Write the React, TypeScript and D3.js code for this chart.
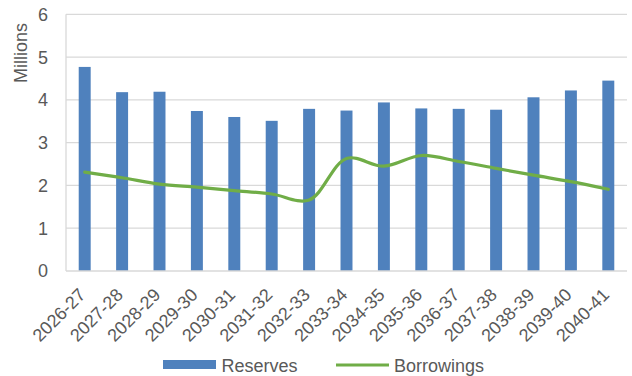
import React from "react";
import * as d3 from "d3";

const categories = ["2026-27","2027-28","2028-29","2029-30","2030-31","2031-32","2032-33","2033-34","2034-35","2035-36","2036-37","2037-38","2038-39","2039-40","2040-41"];
const reserves = [4.77,4.18,4.19,3.74,3.60,3.51,3.79,3.75,3.94,3.80,3.79,3.77,4.06,4.22,4.45];
const borrowings = [2.31,2.18,2.03,1.96,1.88,1.80,1.66,2.63,2.45,2.70,2.56,2.40,2.24,2.09,1.91];
const yTicks = [0,1,2,3,4,5,6];

const W = 632, H = 376;
const left = 66, right = 627, top = 14.3, bottom = 271;
const font = "'Liberation Sans', Arial, sans-serif";
const gray = "#595959";
const fs = 18;

export default function App() {
  const x = d3.scaleBand<string>().domain(categories).range([left, right]).paddingInner(0.68).paddingOuter(0.34);
  const y = d3.scaleLinear().domain([0, 6]).range([bottom, top]);
  const cx = (c: string) => (x(c) as number) + x.bandwidth() / 2;
  const line = d3.line<number>().x((_, i) => cx(categories[i])).y(d => y(d)).curve(d3.curveCatmullRom.alpha(0.5));
  return (
    <svg width={W} height={H} style={{ position: "absolute", left: 0, top: 0, background: "#fff" }} fontFamily={font}>
      {yTicks.map(t => (
        <g key={t}>
          {t > 0 && <line x1={left} x2={right} y1={y(t)} y2={y(t)} stroke="#d9d9d9" strokeWidth={1.3} />}
          <text x={48} y={y(t)} dy="0.36em" textAnchor="end" fontSize={fs} fill={gray}>{t}</text>
        </g>
      ))}
      <line x1={left} x2={left} y1={top} y2={bottom} stroke="#d9d9d9" strokeWidth={1.3} />
      {categories.map((c, i) => (
        <rect key={c} x={x(c)} y={y(reserves[i])} width={x.bandwidth()} height={bottom - y(reserves[i])} fill="#4F81BD" />
      ))}
      <line x1={left} x2={right} y1={bottom} y2={bottom} stroke="#d9d9d9" strokeWidth={1.3} />
      <path d={line(borrowings) || ""} fill="none" stroke="#70AD47" strokeWidth={3.2} strokeLinecap="round" />
      <text transform={`translate(21,53) rotate(-90)`} textAnchor="middle" dy="0.36em" fontSize={fs} fill={gray}>Millions</text>
      {categories.map(c => (
        <text key={c} transform={`translate(${cx(c) + 2},${296}) rotate(-45)`} textAnchor="end" fontSize={fs} fill={gray}>{c}</text>
      ))}
      <rect x={163} y={360} width={53} height={9} fill="#4F81BD" />
      <text x={221.5} y={371.5} fontSize={fs} fill={gray}>Reserves</text>
      <line x1={336} x2={389} y1={365} y2={365} stroke="#70AD47" strokeWidth={3.2} />
      <text x={394} y={371.5} fontSize={fs} fill={gray}>Borrowings</text>
    </svg>
  );
}
